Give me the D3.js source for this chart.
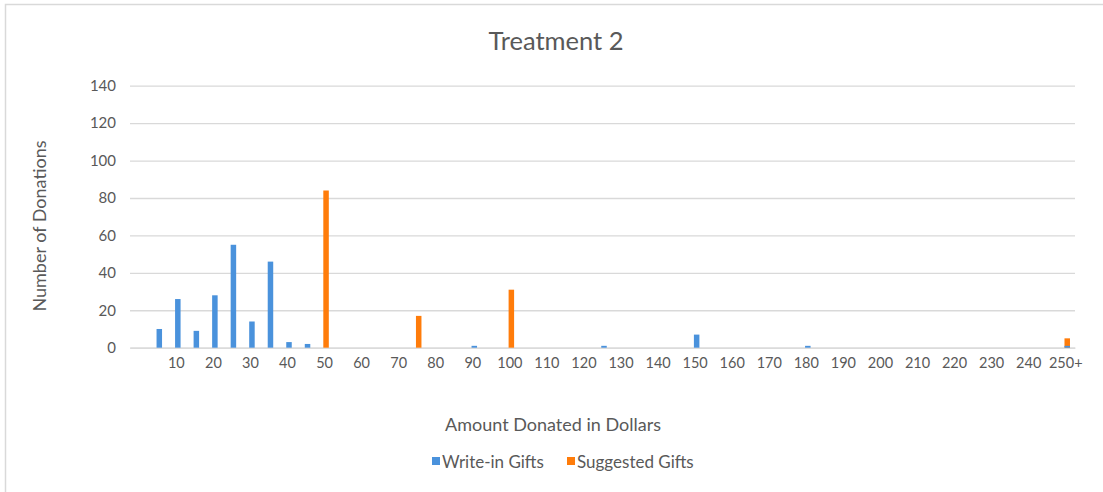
<!DOCTYPE html>
<html>
<head>
<meta charset="utf-8">
<script src="https://cdn.jsdelivr.net/npm/d3@7"></script>
<style>
  html, body { margin: 0; padding: 0; background: #fff; }
  svg { display: block; }
  text { font-family: Lato, "Open Sans", sans-serif; fill: #595959; }
</style>
</head>
<body>
<svg id="chart" width="1103" height="492"></svg>
<script>
// Donation amount buckets in $5 steps (first bucket unlabeled)
const categories = ["", "5", "10", "15", "20", "25", "30", "35", "40", "45",
  "50", "55", "60", "65", "70", "75", "80", "85", "90", "95",
  "100", "105", "110", "115", "120", "125", "130", "135", "140", "145",
  "150", "155", "160", "165", "170", "175", "180", "185", "190", "195",
  "200", "205", "210", "215", "220", "225", "230", "235", "240", "245", "250+"];

// Number of donations per bucket
const writeInGifts = [0, 10, 26, 9, 28, 55, 14, 46, 3, 2,
  0, 0, 0, 0, 0, 0, 0, 0, 1, 0,
  0, 0, 0, 0, 0, 1, 0, 0, 0, 0,
  7, 0, 0, 0, 0, 0, 1, 0, 0, 0,
  0, 0, 0, 0, 0, 0, 0, 0, 0, 0, 1];
const suggestedGifts = [0, 0, 0, 0, 0, 0, 0, 0, 0, 0,
  84, 0, 0, 0, 0, 17, 0, 0, 0, 0,
  31, 0, 0, 0, 0, 0, 0, 0, 0, 0,
  0, 0, 0, 0, 0, 0, 0, 0, 0, 0,
  0, 0, 0, 0, 0, 0, 0, 0, 0, 0, 5];

const yTicks = [0, 20, 40, 60, 80, 100, 120, 140];

const seriesNames = ["Write-in Gifts", "Suggested Gifts"];
const seriesColors = ["#4a92dc", "#ff7c0a"];

const svg = d3.select("#chart");
const W = 1103, H = 492;

// outer chart frame
svg.append("rect")
  .attr("x", 5.5).attr("y", 4.5)
  .attr("width", W + 10).attr("height", H + 10)
  .attr("fill", "none").attr("stroke", "#d9d9d9").attr("stroke-width", 1.5);

const plot = { left: 130, right: 1075, top: 85.7, bottom: 347.7 };

const x = d3.scaleBand()
  .domain(categories.map((c, i) => i))
  .range([plot.left, plot.right])
  .paddingInner(0).paddingOuter(0);

const y = d3.scaleLinear()
  .domain([0, 140])
  .range([plot.bottom, plot.top]);

// horizontal gridlines
const yAxis = d3.axisLeft(y).tickValues(yTicks).tickSize(-(plot.right - plot.left)).tickPadding(14);
const gy = svg.append("g")
  .attr("transform", `translate(${plot.left},0)`)
  .call(yAxis);
gy.select(".domain").remove();
gy.selectAll(".tick line").attr("stroke", "#d9d9d9").attr("stroke-width", 1.3);
gy.selectAll(".tick text")
  .attr("font-size", 15)
  .attr("font-family", "Lato, 'Open Sans', sans-serif")
  .attr("fill", "#595959");

// category axis
const xAxis = d3.axisBottom(x)
  .tickValues(categories.map((c, i) => i).filter(i => i % 2 === 0))
  .tickFormat(i => categories[i])
  .tickSize(0).tickPadding(10);
const gx = svg.append("g")
  .attr("transform", `translate(0,${plot.bottom})`)
  .call(xAxis);
gx.select(".domain").attr("stroke", "#d9d9d9").attr("stroke-width", 1.3);
gx.selectAll(".tick text")
  .attr("font-size", 14.5)
  .attr("font-family", "Lato, 'Open Sans', sans-serif")
  .attr("fill", "#595959");

// bars: both series share the category slot (full overlap)
const barW = 5.5;
const seriesData = [suggestedGifts, writeInGifts];
const seriesColorOrder = [seriesColors[1], seriesColors[0]];
seriesData.forEach((vals, s) => {
  svg.append("g").selectAll("rect")
    .data(vals.map((v, i) => ({ i, v })).filter(d => d.v > 0))
    .join("rect")
    .attr("x", d => x(d.i) + x.bandwidth() / 2 - barW / 2 + 1.5)
    .attr("y", d => y(d.v))
    .attr("width", barW)
    .attr("height", d => y(0) - y(d.v))
    .attr("fill", seriesColorOrder[s]);
});

// title
svg.append("text")
  .attr("x", 556).attr("y", 50)
  .attr("text-anchor", "middle")
  .attr("font-size", 25.5)
  .text("Treatment 2");

// axis titles
svg.append("text")
  .attr("transform", "translate(46,226) rotate(-90)")
  .attr("text-anchor", "middle")
  .attr("font-size", 18)
  .text("Number of Donations");

svg.append("text")
  .attr("x", 553).attr("y", 431)
  .attr("text-anchor", "middle")
  .attr("font-size", 18)
  .text("Amount Donated in Dollars");

// legend
const legend = svg.append("g").attr("transform", "translate(0,462)");
const legendX = [432, 567];
seriesNames.forEach((name, k) => {
  legend.append("rect")
    .attr("x", legendX[k]).attr("y", -5)
    .attr("width", 8).attr("height", 8)
    .attr("fill", seriesColors[k]);
  legend.append("text")
    .attr("x", legendX[k] + 10).attr("y", 5.5)
    .attr("font-size", 17)
    .text(name);
});
</script>
</body>
</html>
